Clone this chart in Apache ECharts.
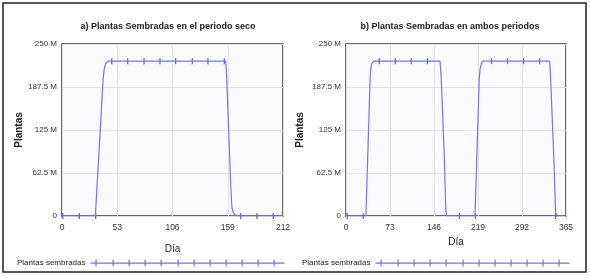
<!DOCTYPE html>
<html>
<head>
<meta charset="utf-8">
<script src="https://cdn.jsdelivr.net/npm/echarts@6/dist/echarts.min.js"></script>
<style>
  html, body { margin: 0; padding: 0; background: #fff; }
  #chart { width: 590px; height: 278px; }
</style>
</head>
<body>
<div id="chart"></div>
<script>
  // valores en millones de plantas
  var yTickLabels = ['0', '62.5 M', '125 M', '187.5 M', '250 M']
  var lineA = [[0, 0], [32, 0], [39.5, 200], [40.5, 214], [42, 222], [44, 225], [157, 225], [158, 200],
    [160, 120], [162, 40], [163, 12], [164.5, 4], [167, 0], [212, 0]]
  var marksA = [[0.7, 0], [16.6, 0], [32.3, 0], [47.7, 225], [63, 225], [78.7, 225], [94, 225], [109, 225],
    [125, 225], [140, 225], [155.7, 225], [171.4, 0], [187, 0], [202.7, 0]]
  var lineB = [[0, 0], [33, 0], [40, 200], [41, 214], [43, 222], [46, 225], [156, 225], [158, 200],
    [163, 90], [165.5, 10], [167, 0], [214, 0], [221, 200], [222.5, 214], [224.5, 222], [227, 225],
    [338, 225], [339.5, 200], [345, 80], [347.5, 10], [349, 0], [365, 0]]
  var marksB = [[2, 0], [28.6, 0], [55.2, 225], [81.8, 225], [108.4, 225], [135, 225], [188.2, 0],
    [214.8, 0], [241.4, 225], [268, 225], [294.6, 225], [321.2, 225], [347.8, 0]]

  var font = '"Liberation Sans", Arial, sans-serif'
  var lineColor = '#7474e2'
  var markColor = '#4444b8'
  var legendIcon = 'path://M0,3L194,3L194,4.2L0,4.2Z' +
    'M5,0h1.2v7h-1.2Z M22,0h1.2v7h-1.2Z M38,0h1.2v7h-1.2Z M54,0h1.2v7h-1.2Z M70,0h1.2v7h-1.2Z M87,0h1.2v7h-1.2Z' +
    'M103,0h1.2v7h-1.2Z M119,0h1.2v7h-1.2Z M135,0h1.2v7h-1.2Z M151,0h1.2v7h-1.2Z M167,0h1.2v7h-1.2Z M183,0h1.2v7h-1.2Z'

  function xAxis(idx, max, interval, gap) {
    return {
      type: 'value', gridIndex: idx, min: 0, max: max, interval: interval,
      name: 'Día', nameLocation: 'middle', nameGap: gap,
      nameTextStyle: { color: '#222', fontSize: 10, fontFamily: font },
      axisLine: { show: false },
      axisTick: { show: false },
      axisLabel: { color: '#333', fontSize: 8.5, fontFamily: font, margin: 7 },
      splitLine: { show: true, lineStyle: { color: '#e2e2e6', width: 1 } }
    }
  }
  function yAxis(idx, gap) {
    return {
      type: 'value', gridIndex: idx, min: 0, max: 250, interval: 62.5,
      name: 'Plantas', nameLocation: 'middle', nameRotate: 90, nameGap: gap,
      nameTextStyle: { color: '#222', fontSize: 10, fontWeight: 'bold', fontFamily: font },
      axisLine: { show: false },
      axisTick: { show: false },
      axisLabel: {
        color: '#333', fontSize: 8, fontFamily: font, margin: 5,
        formatter: function (v, i) { return yTickLabels[i] }
      },
      splitLine: { show: true, lineStyle: { color: '#e2e2e6', width: 1 } }
    }
  }
  function legend(left) {
    return {
      left: left, top: 259, align: 'right', icon: legendIcon, padding: 0,
      itemWidth: 194, itemHeight: 7,
      data: ['Plantas sembradas'],
      textStyle: { color: '#222', fontSize: 8, fontFamily: font }
    }
  }

  var chart = echarts.init(document.getElementById('chart'))
  chart.setOption({
    backgroundColor: '#fff',
    animation: false,
    title: [
      { text: 'a) Plantas Sembradas en el periodo seco', left: 163, top: 17, textAlign: 'center',
        textStyle: { color: '#222', fontSize: 9, fontWeight: 'bold', fontFamily: font } },
      { text: 'b) Plantas Sembradas en ambos periodos', left: 445, top: 17, textAlign: 'center',
        textStyle: { color: '#222', fontSize: 9, fontWeight: 'bold', fontFamily: font } }
    ],
    legend: [legend(17), legend(302)],
    graphic: [{
      type: 'rect', shape: { x: 3, y: 3, width: 583, height: 269 },
      style: { fill: 'none', stroke: '#222', lineWidth: 1.5 }, z: 100
    }],
    grid: [
      { left: 62, top: 44, width: 221, height: 172, show: true, backgroundColor: '#fbfbfd',
        borderColor: '#3a3a3a', borderWidth: 1.5 },
      { left: 346, top: 44, width: 220, height: 172, show: true, backgroundColor: '#fbfbfd',
        borderColor: '#3a3a3a', borderWidth: 1.5 }
    ],
    xAxis: [xAxis(0, 212, 53, 28), xAxis(1, 365, 73, 17)],
    yAxis: [yAxis(0, 33), yAxis(1, 41)],
    series: [
      { name: 'Plantas sembradas', type: 'line', xAxisIndex: 0, yAxisIndex: 0, data: lineA,
        showSymbol: false, lineStyle: { color: lineColor, width: 1.2 }, itemStyle: { color: lineColor } },
      { name: 'marcas a', type: 'scatter', xAxisIndex: 0, yAxisIndex: 0, data: marksA,
        symbol: 'rect', symbolSize: [1.3, 6], itemStyle: { color: markColor } },
      { name: 'Plantas sembradas', type: 'line', xAxisIndex: 1, yAxisIndex: 1, data: lineB,
        showSymbol: false, lineStyle: { color: lineColor, width: 1.2 }, itemStyle: { color: lineColor } },
      { name: 'marcas b', type: 'scatter', xAxisIndex: 1, yAxisIndex: 1, data: marksB,
        symbol: 'rect', symbolSize: [1.3, 6], itemStyle: { color: markColor } }
    ]
  })
</script>
</body>
</html>
